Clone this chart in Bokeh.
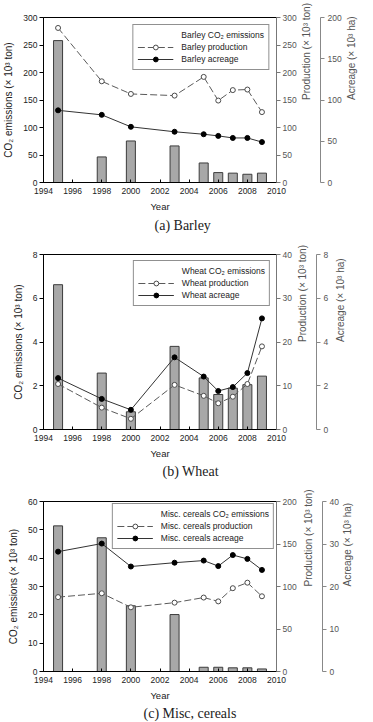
import math

from bokeh.plotting import figure
from bokeh.models import LinearAxis, Range1d, FixedTicker, Legend, LegendItem
from bokeh.layouts import column
from bokeh.embed import file_html
from bokeh.resources import INLINE

# Survey years shared by all three crops
years = [1995, 1998, 2000, 2003, 2005, 2006, 2007, 2008, 2009]
year_ticks = [1994, 1996, 1998, 2000, 2002, 2004, 2006, 2008, 2010]

# Barley (CO2 and production in 10^3 ton, acreage in 10^3 ha)
barley_co2 = [258, 46.5, 75.5, 66.5, 35.5, 18, 17, 15, 17]
barley_production = [281, 184, 161, 158, 192, 149, 168, 169, 128]
barley_acreage = [87.5, 82, 67.5, 61.5, 58.5, 56.5, 54, 54, 49]

# Wheat
wheat_co2 = [6.62, 2.58, 0.81, 3.8, 2.36, 1.6, 1.89, 2.05, 2.44]
wheat_production = [10.4, 5.0, 2.45, 10.2, 7.7, 6.0, 7.5, 10.4, 19.0]
wheat_acreage = [2.35, 1.4, 0.9, 3.3, 2.42, 1.76, 1.94, 2.58, 5.08]

# Miscellaneous cereals
misc_co2 = [51.4, 47.2, 23.2, 20.1, 1.5, 1.5, 1.3, 1.3, 0.9]
misc_production = [87.5, 92, 75.5, 81, 87, 82.5, 98, 104.5, 88.5]
misc_acreage = [28.2, 30.1, 24.7, 25.6, 26.1, 24.8, 27.4, 26.5, 23.9]

SANS = "Liberation Sans"
SERIF = "Liberation Serif"


def style_axis(ax, ticks, label, color="#222222", line_color="black"):
    ax.ticker = FixedTicker(ticks=ticks)
    ax.axis_label = label
    ax.axis_label_text_font = SANS
    ax.axis_label_text_font_size = "10px"
    ax.axis_label_text_font_style = "normal"
    ax.axis_label_text_color = color
    ax.major_label_text_font = SANS
    ax.major_label_text_font_size = "8.5px"
    ax.major_label_text_color = color
    ax.axis_line_color = line_color
    ax.major_tick_line_color = line_color
    ax.minor_tick_line_color = None
    ax.major_tick_out = 4
    ax.major_tick_in = 0
    ax.major_label_standoff = 2
    ax.axis_label_standoff = 6


def build_panel(name, caption, co2, production, acreage,
                co2_max, co2_step, prod_max, prod_step, acre_max, acre_step,
                height, left, right, top, bottom, prod_standoff, spacer, acre_standoff,
                legend_margin, caption_offset, caption_standoff):
    p = figure(width=373, height=height, output_backend="svg", toolbar_location=None,
               x_range=Range1d(1994, 2010), y_range=Range1d(0, co2_max),
               title=caption, title_location="below",
               min_border_left=left, min_border_right=right,
               min_border_top=top, min_border_bottom=bottom)
    p.extra_y_ranges = {"production": Range1d(0, prod_max), "acreage": Range1d(0, acre_max)}
    p.grid.visible = False
    p.outline_line_color = "black"
    p.outline_line_width = 1

    # bottom axis
    xa = p.xaxis[0]
    style_axis(xa, year_ticks, "Year")
    xa.major_tick_in = 3
    xa.major_tick_out = 0
    xa.major_label_standoff = 5
    xa.axis_label_text_font_size = "9.5px"
    xa.axis_label_standoff = 4

    # left axis: CO2 emissions
    n_left = int(round(co2_max / co2_step))
    style_axis(p.yaxis[0], [i * co2_step for i in range(n_left + 1)],
               "CO₂ emissions (× 10³ ton)")

    # right axes: production, then acreage further out
    prod_axis = LinearAxis(y_range_name="production")
    style_axis(prod_axis, list(range(0, prod_max + 1, prod_step)),
               "Production (× 10³ ton)", color="#555555", line_color="#777777")
    prod_axis.axis_label_orientation = math.pi / 2
    prod_axis.axis_label_standoff = prod_standoff
    p.add_layout(prod_axis, "right")

    # empty axis that only keeps a gap before the acreage axis
    gap_axis = LinearAxis(y_range_name="production", ticker=FixedTicker(ticks=[]),
                          axis_line_color=None, major_tick_line_color="white",
                          minor_tick_line_color=None, major_tick_out=spacer,
                          major_tick_in=0, major_label_text_color="white")
    p.add_layout(gap_axis, "right")

    acre_axis = LinearAxis(y_range_name="acreage")
    style_axis(acre_axis, list(range(0, acre_max + 1, acre_step)),
               "Acreage (× 10³ ha)", color="#555555", line_color="#888888")
    acre_axis.axis_label_orientation = math.pi / 2
    acre_axis.major_label_standoff = 3
    acre_axis.axis_label_standoff = acre_standoff
    p.add_layout(acre_axis, "right")

    # CO2 bars
    p.vbar(x=years, top=co2, width=0.62, fill_color="#a8a8a8",
           line_color="#3c3c3c", line_width=1)

    # production: dashed line with open circles
    prod_line = p.line(years, production, y_range_name="production",
                       line_dash="7 3", line_color="#5a5a5a", line_width=1)
    prod_pts = p.scatter(years, production, y_range_name="production", size=5,
                         fill_color="white", line_color="#4a4a4a", line_width=1)

    # acreage: solid line with filled circles
    acre_line = p.line(years, acreage, y_range_name="acreage",
                       line_color="#333333", line_width=1)
    acre_pts = p.scatter(years, acreage, y_range_name="acreage", size=5,
                         fill_color="black", line_color="black")

    # legend swatch for the bars: dark edge with grey fill
    sw_edge = p.line([], [], line_color="#3c3c3c", line_width=7, line_cap="butt")
    sw_fill = p.line([], [], line_color="#a8a8a8", line_width=5, line_cap="butt")

    legend = Legend(items=[
        LegendItem(label=f"{name} CO₂ emissions", renderers=[sw_edge, sw_fill]),
        LegendItem(label=f"{name} production", renderers=[prod_line, prod_pts]),
        LegendItem(label=f"{name} acreage", renderers=[acre_line, acre_pts]),
    ], location="top_right")
    legend.margin = legend_margin
    legend.padding = 4
    legend.spacing = 0
    legend.glyph_width = 36
    legend.glyph_height = 12
    legend.label_height = 12
    legend.label_standoff = 8
    legend.label_text_font = SANS
    legend.label_text_font_size = "8.5px"
    legend.label_text_color = "#222222"
    legend.border_line_color = "#222222"
    legend.border_line_width = 1
    legend.background_fill_color = "white"
    legend.background_fill_alpha = 1
    p.add_layout(legend, "center")

    p.title.text_font = SERIF
    p.title.text_font_size = "14px"
    p.title.text_font_style = "normal"
    p.title.text_color = "#222222"
    p.title.align = "left"
    p.title.offset = caption_offset
    p.title.standoff = caption_standoff
    return p


barley = build_panel("Barley", "(a)  Barley", barley_co2, barley_production, barley_acreage,
                     300, 50, 300, 50, 200, 50,
                     height=240, left=42, right=97, top=17, bottom=58,
                     prod_standoff=7, spacer=3, acre_standoff=7,
                     legend_margin=7, caption_offset=111, caption_standoff=3)
wheat = build_panel("Wheat", "(b)  Wheat", wheat_co2, wheat_production, wheat_acreage,
                    8, 2, 40, 10, 8, 2,
                    height=240, left=33, right=90, top=14, bottom=51,
                    prod_standoff=8, spacer=7, acre_standoff=9,
                    legend_margin=6, caption_offset=119, caption_standoff=1)
misc = build_panel("Misc. cereals", "(c)  Misc,  cereals", misc_co2, misc_production, misc_acreage,
                   60, 10, 200, 50, 40, 10,
                   height=242, left=38, right=94, top=21, bottom=51,
                   prod_standoff=9, spacer=4, acre_standoff=6,
                   legend_margin=2, caption_offset=100, caption_standoff=1)

layout = column(barley, wheat, misc, spacing=0)
open("out.html", "w").write(file_html(layout, INLINE))
